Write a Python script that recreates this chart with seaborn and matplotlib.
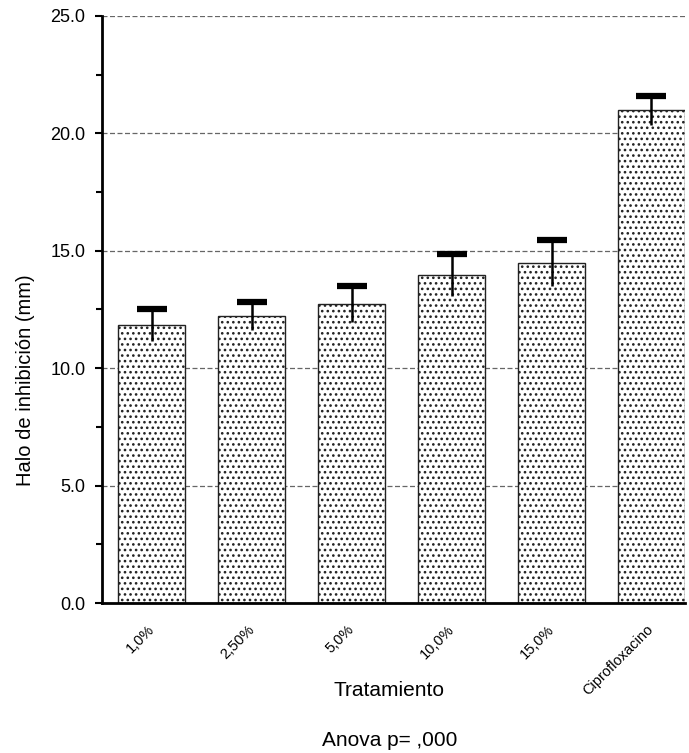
import numpy as np
import pandas as pd
import matplotlib
matplotlib.use('Agg')
import matplotlib.pyplot as plt
import matplotlib.transforms as mtransforms
import seaborn as sns

categories = ['1,0%', '2,50%', '5,0%', '10,0%', '15,0%', 'Ciprofloxacino']
means = [11.85, 12.22, 12.73, 13.97, 14.47, 20.97]
errors = [0.68, 0.59, 0.75, 0.88, 0.98, 0.63]
y_ticks = [0.0, 5.0, 10.0, 15.0, 20.0, 25.0]

df = pd.DataFrame({'Tratamiento': categories, 'Halo': means})

sns.set_style('white')
plt.rcParams['font.family'] = ['Liberation Sans', 'DejaVu Sans']
plt.rcParams['text.color'] = 'black'
plt.rcParams['axes.labelcolor'] = 'black'
plt.rcParams['xtick.color'] = 'black'
plt.rcParams['ytick.color'] = 'black'
plt.rcParams['hatch.linewidth'] = 1.1
plt.rcParams['hatch.color'] = '#222222'

fig = plt.figure(figsize=(6.89, 7.53), dpi=100)
ax = fig.add_axes([0.148, 0.199, 0.846, 0.780])

ax.yaxis.grid(True, linestyle=(0, (4, 2)), color='#666666', linewidth=0.9)
ax.set_axisbelow(True)

# dotted bars
sns.barplot(data=df, x='Tratamiento', y='Halo', color='white', edgecolor='#222222',
            linewidth=1.0, width=0.67, hatch='...', ax=ax, errorbar=None, zorder=2)

# error bars: line through the mean, thick cap on top only
x = np.arange(len(categories))
m = np.array(means)
e = np.array(errors)
ax.vlines(x, m - e, m + e, color='black', linewidth=1.8, zorder=3)
ax.plot(x, m + e, linestyle='none', marker='_', markersize=22, markeredgewidth=4.5,
        color='black', zorder=4)

ax.set_xlim(-0.5, 5.335)
ax.set_ylim(0, 25)
ax.set_yticks(y_ticks)
ax.set_yticklabels([f'{v:.1f}' for v in y_ticks], fontsize=13)
ax.set_yticks(np.arange(2.5, 25, 5.0), minor=True)
ax.tick_params(axis='y', which='major', direction='out', length=5, width=1.5, left=True, pad=7)
ax.tick_params(axis='y', which='minor', direction='out', length=4, width=1.5, left=True)
ax.tick_params(axis='x', length=0, pad=14)
ax.set_xticks(x)
ax.set_xticklabels(categories, rotation=45, ha='right', rotation_mode='anchor', fontsize=10.5)
shift = mtransforms.ScaledTranslation(-5 / 100, 0, fig.dpi_scale_trans)
for lbl in ax.get_xticklabels():
    lbl.set_transform(lbl.get_transform() + shift)

for side in ['top', 'right']:
    ax.spines[side].set_visible(False)
for side in ['left', 'bottom']:
    ax.spines[side].set_linewidth(2)
    ax.spines[side].set_color('black')

ax.set_ylabel('Halo de inhibición (mm)', fontsize=14.5, labelpad=10)
ax.yaxis.set_label_coords(-0.115, 0.38)
ax.set_xlabel('')
fig.text(0.565, 0.083, 'Tratamiento', ha='center', va='center', fontsize=15)
fig.text(0.565, 0.017, 'Anova p= ,000', ha='center', va='center', fontsize=15)

fig.savefig('out.png', dpi=100)
